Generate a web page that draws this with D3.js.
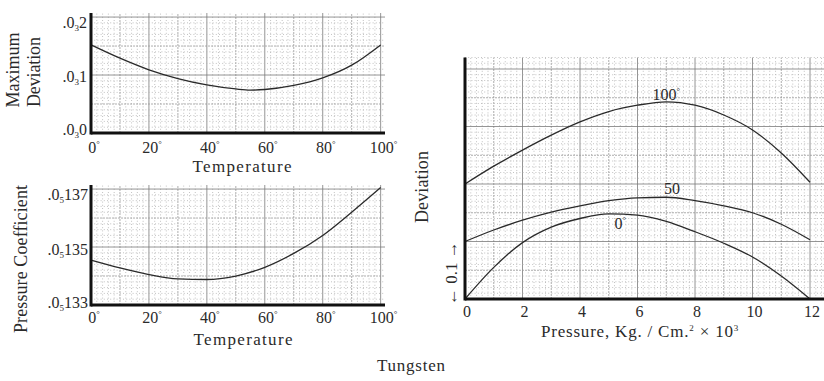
<!DOCTYPE html>
<html>
<head>
<meta charset="utf-8">
<script src="https://cdn.jsdelivr.net/npm/d3@7"></script>
<style>
  body { margin: 0; background: #fff; }
  text { font-family: "Liberation Serif", "DejaVu Serif", serif; fill: #2a2a2a; }
</style>
</head>
<body>
<svg id="chart" width="824" height="381"></svg>
<script>
// Maximum deviation vs temperature (units of .0_3)
const maxDevTemps = [0, 10, 20, 30, 40, 50, 55, 60, 70, 80, 90, 100];
const maxDevValues = [0.152, 0.129, 0.109, 0.094, 0.083, 0.076, 0.074, 0.075, 0.082, 0.095, 0.117, 0.152];
const maxDevTicks = [0, 0.1, 0.2];
const maxDevTickLabels = ["0", "1", "2"];

// Pressure coefficient vs temperature (units of .0_5)
const coefTemps = [0, 10, 20, 30, 40, 50, 60, 70, 80, 90, 100];
const coefValues = [0.13455, 0.13428, 0.13405, 0.13390, 0.13388, 0.13400, 0.13430, 0.13478, 0.13540, 0.13620, 0.13705];
const coefTicks = [0.133, 0.135, 0.137];
const coefTickLabels = ["133", "135", "137"];

const tempTicks = [0, 20, 40, 60, 80, 100];

// Deviation vs pressure, one series per temperature
const pressures = [0, 1, 2, 3, 4, 5, 6, 7, 8, 9, 10, 11, 12];
const dev0 = [0.000, 0.055, 0.098, 0.125, 0.140, 0.148, 0.146, 0.135, 0.117, 0.097, 0.073, 0.040, 0.000];
const dev50 = [0.100, 0.120, 0.137, 0.151, 0.162, 0.171, 0.176, 0.177, 0.171, 0.162, 0.150, 0.130, 0.103];
const dev100 = [0.200, 0.231, 0.259, 0.285, 0.308, 0.326, 0.337, 0.343, 0.337, 0.320, 0.294, 0.254, 0.203];
const devSeries = [
  {label: "0", values: dev0, lx: 5.4, ly: 0.122},
  {label: "50", values: dev50, lx: 7.2, ly: 0.182},
  {label: "100", values: dev100, lx: 7.0, ly: 0.346}
];
const pressureTicks = [0, 2, 4, 6, 8, 10, 12];

const svg = d3.select("#chart");
const ink = "#2a2a2a";

function deg(sel, size) {
  sel.append("tspan").attr("font-size", size).attr("dy", -6).text("°");
}

// graph-paper grid: dotted minor lines and solid major lines
function paper(g, x, y, xMajor, yMajor, n) {
  const [x0, x1] = x.domain(), [y0, y1] = y.domain();
  const xs = d3.range(0, Math.floor((x1 - x0) / (xMajor / n)) + 1).map(i => x0 + i * xMajor / n);
  const ys = d3.range(0, Math.floor((y1 - y0) / (yMajor / n) + 1e-6) + 1).map(i => y0 + i * yMajor / n);
  const stroke = (d, i) => i % n === 0 ? "#7a7a7a" : (i % (n / 2) === 0 ? "#999" : "#b4b4b4");
  const dash = (d, i) => i % n === 0 ? null : (i % (n / 2) === 0 ? "2,1" : "1,2.2");
  g.append("g").selectAll("line").data(xs).join("line")
    .attr("x1", d => x(d)).attr("x2", d => x(d))
    .attr("y1", y.range()[0]).attr("y2", y.range()[1])
    .attr("stroke", stroke).attr("stroke-width", 0.8)
    .attr("stroke-dasharray", dash);
  g.append("g").selectAll("line").data(ys).join("line")
    .attr("y1", d => y(d)).attr("y2", d => y(d))
    .attr("x1", x.range()[0]).attr("x2", x.range()[1])
    .attr("stroke", stroke).attr("stroke-width", 0.8)
    .attr("stroke-dasharray", dash);
}

function frame(g, x, y) {
  g.append("line")
    .attr("x1", x.range()[0]).attr("x2", x.range()[0])
    .attr("y1", y.range()[0] + 1.5).attr("y2", y.range()[1])
    .attr("stroke", "#111").attr("stroke-width", 3);
  g.append("line")
    .attr("x1", x.range()[0]).attr("x2", x.range()[1])
    .attr("y1", y.range()[0]).attr("y2", y.range()[0])
    .attr("stroke", "#111").attr("stroke-width", 3);
}

function curve(g, x, y, xs, ys) {
  const line = d3.line()
    .x((d, i) => x(xs[i]))
    .y(d => y(d))
    .curve(d3.curveMonotoneX);
  g.append("path").attr("d", line(ys))
    .attr("fill", "none").attr("stroke", ink).attr("stroke-width", 1.3);
}

function tempAxis(g, x, baseY) {
  g.append("g").selectAll("text").data(tempTicks).join("text")
    .attr("x", d => x(d) + 3).attr("y", baseY)
    .attr("text-anchor", "middle").attr("font-size", 16)
    .each(function(d) {
      const t = d3.select(this);
      t.append("tspan").text(d);
      deg(t, 9);
    });
}

function subLabels(g, y, ticks, labels, sub, rightX, shift) {
  g.append("g").selectAll("text").data(ticks).join("text")
    .attr("x", rightX).attr("y", (d, i) => y(d) + shift[i]).attr("dy", "0.35em")
    .attr("text-anchor", "end").attr("font-size", 16)
    .each(function(d, i) {
      const t = d3.select(this);
      t.append("tspan").text(".0");
      t.append("tspan").attr("font-size", 9).attr("dy", 3).text(sub);
      t.append("tspan").attr("dy", -3).text(labels[i]);
    });
}

// ---- Panel 1: maximum deviation ----
{
  const x = d3.scaleLinear().domain([0, 101.5]).range([91, 385]);
  const y = d3.scaleLinear().domain([0, 0.207]).range([133, 13]);
  const g = svg.append("g");
  paper(g, x, y, 20, 0.1, 10);
  curve(g, x, y, maxDevTemps, maxDevValues);
  frame(g, x, y);
  subLabels(g, y, maxDevTicks, maxDevTickLabels, "3", 87, [-4, 1, 5]);
  tempAxis(g, x, 153);
  g.append("text").attr("x", 242).attr("y", 172).attr("text-anchor", "middle")
    .attr("font-size", 17).attr("textLength", 99).text("Temperature");
  g.append("text").attr("transform", "translate(19,70) rotate(-90)")
    .attr("text-anchor", "middle").attr("font-size", 18).attr("textLength", 75).text("Maximum");
  g.append("text").attr("transform", "translate(40,72) rotate(-90)")
    .attr("text-anchor", "middle").attr("font-size", 18).attr("textLength", 70).text("Deviation");
}

// ---- Panel 2: pressure coefficient ----
{
  const x = d3.scaleLinear().domain([0, 101.5]).range([91, 385]);
  const y = d3.scaleLinear().domain([0.133, 0.13714]).range([305, 185]);
  const g = svg.append("g");
  paper(g, x, y, 20, 0.002, 10);
  curve(g, x, y, coefTemps, coefValues);
  frame(g, x, y);
  subLabels(g, y, coefTicks, coefTickLabels, "5", 88, [-3, 2, 5]);
  tempAxis(g, x, 323);
  g.append("text").attr("x", 243).attr("y", 345).attr("text-anchor", "middle")
    .attr("font-size", 17).attr("textLength", 99).text("Temperature");
  g.append("text").attr("transform", "translate(27,259) rotate(-90)")
    .attr("text-anchor", "middle").attr("font-size", 18).attr("textLength", 148)
    .text("Pressure  Coefficient");
}

// ---- Panel 3: deviation vs pressure ----
{
  const x = d3.scaleLinear().domain([0, 12.5]).range([465, 824.4]);
  const y = d3.scaleLinear().domain([0, 0.42]).range([299, 57.5]);
  const g = svg.append("g");
  paper(g, x, y, 2, 0.1, 10);
  devSeries.forEach(s => curve(g, x, y, pressures, s.values));
  frame(g, x, y);
  devSeries.forEach(s => {
    const t = g.append("text").attr("x", x(s.lx)).attr("y", y(s.ly))
      .attr("text-anchor", "middle").attr("font-size", 16);
    t.append("tspan").text(s.label);
    if (s.label !== "50") deg(t, 9);
  });
  g.append("g").selectAll("text").data(pressureTicks).join("text")
    .attr("x", d => x(d) + 2).attr("y", 317)
    .attr("text-anchor", "middle").attr("font-size", 16)
    .text(d => d);
  const xt = g.append("text").attr("x", 640).attr("y", 337)
    .attr("text-anchor", "middle").attr("font-size", 17)
    .attr("letter-spacing", 0.8);
  xt.append("tspan").text("Pressure, Kg. / Cm.");
  xt.append("tspan").attr("font-size", 9).attr("dy", -6).text("2");
  xt.append("tspan").attr("dy", 6).text(" \u00d7 10");
  xt.append("tspan").attr("font-size", 9).attr("dy", -6).text("3");
  g.append("text").attr("transform", "translate(428,187) rotate(-90)")
    .attr("text-anchor", "middle").attr("font-size", 18).attr("textLength", 72).text("Deviation");
  g.append("text").attr("transform", "translate(457,273) rotate(-90)")
    .attr("text-anchor", "middle").attr("font-size", 17).text("\u2190 0.1 \u2192");
}

svg.append("text").attr("x", 411).attr("y", 371).attr("text-anchor", "middle")
  .attr("font-size", 17).attr("textLength", 68).text("Tungsten");
</script>
</body>
</html>
